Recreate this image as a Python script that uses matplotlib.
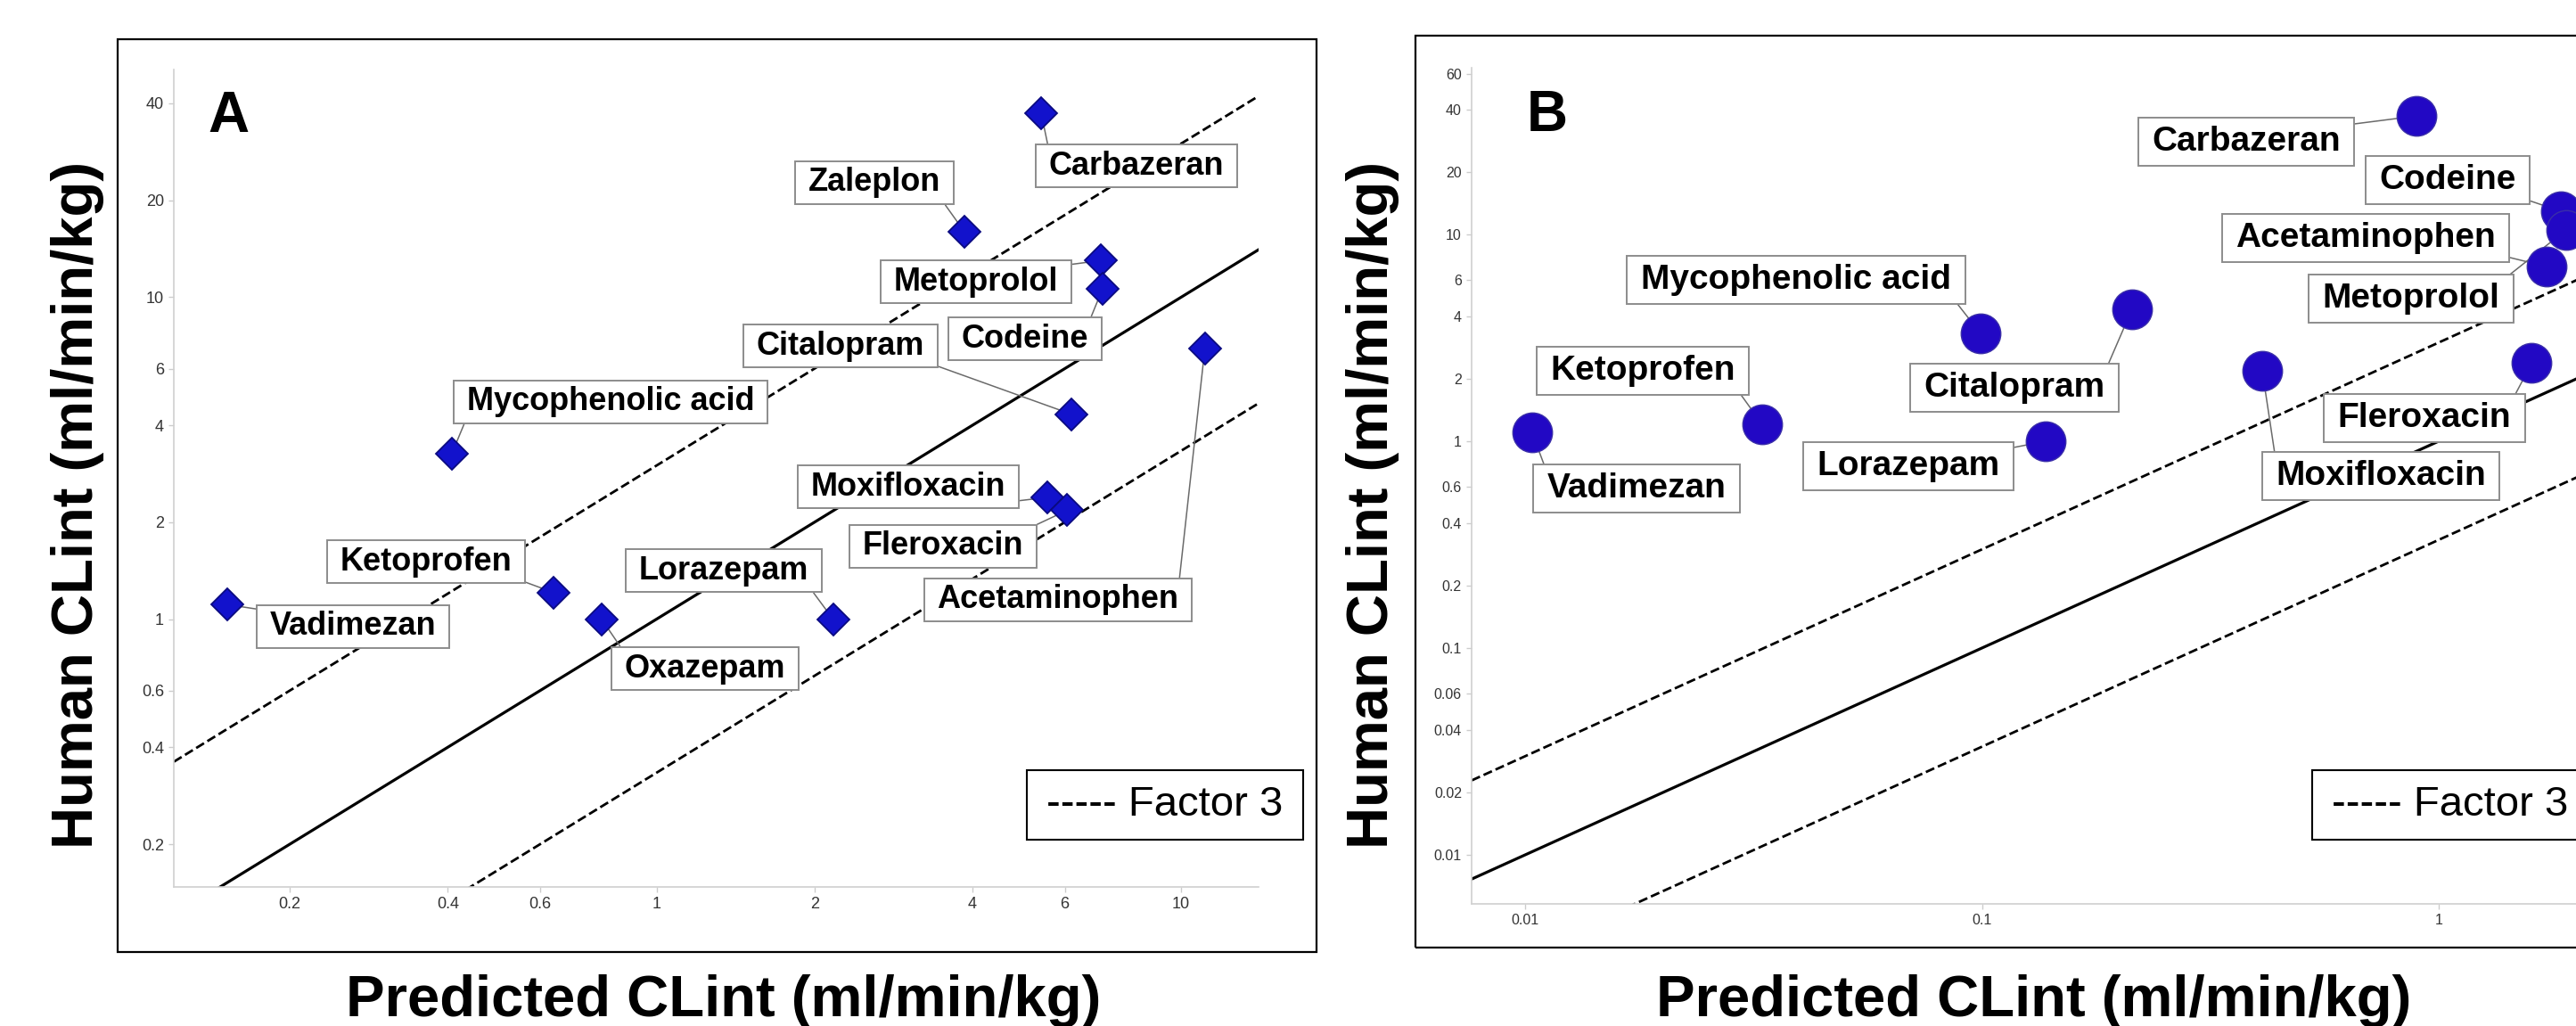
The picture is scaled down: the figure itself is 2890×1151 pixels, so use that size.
import numpy as np
import matplotlib
matplotlib.use("Agg")
import matplotlib.pyplot as plt
from matplotlib.patches import Rectangle
from matplotlib.path import Path
from matplotlib.ticker import NullLocator
from functools import partial

plt.rcParams["font.family"] = ["Liberation Sans", "DejaVu Sans"]

# ---- data: predicted vs human CLint (ml/min/kg) ----
drugs_a = ["Carbazeran", "Zaleplon", "Metoprolol", "Codeine", "Acetaminophen", "Citalopram",
           "Mycophenolic acid", "Moxifloxacin", "Fleroxacin", "Ketoprofen", "Vadimezan",
           "Oxazepam", "Lorazepam"]
pred_a = [5.41, 3.86, 7.03, 7.08, 11.1, 6.18, 0.407, 5.56, 6.07, 0.636, 0.152, 0.786, 2.17]
obs_a = [37.4, 16.0, 13.0, 10.6, 6.94, 4.33, 3.26, 2.39, 2.18, 1.21, 1.11, 1.0, 1.0]

drugs_b = ["Carbazeran", "Codeine", "Metoprolol", "Acetaminophen", "Mycophenolic acid",
           "Citalopram", "Ketoprofen", "Vadimezan", "Lorazepam", "Moxifloxacin", "Fleroxacin"]
pred_b = [0.894, 1.85, 1.90, 1.72, 0.0994, 0.213, 0.033, 0.01035, 0.138, 0.411, 1.60]
obs_b = [37.4, 12.95, 10.5, 7.0, 3.31, 4.34, 1.21, 1.10, 1.0, 2.19, 2.39]

xticks_a = [0.2, 0.4, 0.6, 1, 2, 4, 6, 10]
yticks_a = [0.2, 0.4, 0.6, 1, 2, 4, 6, 10, 20, 40]
xticks_b = [0.01, 0.1, 1]
yticks_b = [0.01, 0.02, 0.04, 0.06, 0.1, 0.2, 0.4, 0.6, 1, 2, 4, 6, 10, 20, 40, 60]

# ---- layout (figure pixels, measured from the top) ----
W, H = 2890, 1151

# label box centre (x, y from top) and the box corner the leader starts from
labels_a = {
    "Carbazeran": (1275, 186, (0, 1)),
    "Zaleplon": (981, 205, (1, 0)),
    "Metoprolol": (1095, 316, (1, 1)),
    "Codeine": (1150, 380, (1, 1)),
    "Citalopram": (943, 388, (1, 0)),
    "Mycophenolic acid": (685, 451, (0, 0)),
    "Moxifloxacin": (1019, 546, (1, 0)),
    "Fleroxacin": (1058, 613, (1, 1)),
    "Ketoprofen": (478, 630, (1, 0)),
    "Lorazepam": (812, 640, (1, 0)),
    "Vadimezan": (396, 703, (0, 1)),
    "Oxazepam": (791, 750, (0, 1)),
    "Acetaminophen": (1187, 673, (1, 1)),
}
labels_b = {
    "Carbazeran": (2520, 159, (1, 1)),
    "Codeine": (2746, 202, (1, 0)),
    "Acetaminophen": (2654, 267, (1, 0)),
    "Metoprolol": (2705, 335, (1, 1)),
    "Mycophenolic acid": (2015, 314, (1, 0)),
    "Citalopram": (2260, 435, (1, 1)),
    "Ketoprofen": (1843, 416, (1, 0)),
    "Vadimezan": (1836, 548, (0, 1)),
    "Lorazepam": (2141, 523, (1, 1)),
    "Moxifloxacin": (2671, 534, (0, 1)),
    "Fleroxacin": (2720, 469, (1, 1)),
}


def fx(px):
    return px / W


def fy(py):
    return 1 - py / H


def rect_box(x0, y0, width, height, mutation_size, padx=0.4, pady=0.2):
    # square box with separate horizontal / vertical padding
    px, py = padx * mutation_size, pady * mutation_size
    x0, y0 = x0 - px, y0 - py
    x1, y1 = x0 + width + 2 * px, y0 + height + 2 * py
    return Path([(x0, y0), (x1, y0), (x1, y1), (x0, y1), (x0, y0)], closed=True)


fig = plt.figure(figsize=(W / 100, H / 100), dpi=100)

# outer frames around each panel
for x0, y0, x1, y1 in [(132, 44, 1477, 1068), (1588, 40, 2935, 1063)]:
    fig.add_artist(Rectangle((fx(x0), fy(y1)), (x1 - x0) / W, (y1 - y0) / H,
                             transform=fig.transFigure, fill=False, ec="black", lw=1.6))

ax_a = fig.add_axes([fx(195), fy(995), (1412 - 195) / W, (995 - 78) / H])
ax_b = fig.add_axes([fx(1651), fy(1014), (2965 - 1651) / W, (1014 - 76) / H])

panels = [
    (ax_a, (0.1202, 14.05), (0.1473, 50.96), xticks_a, yticks_a, 13),
    (ax_b, (0.00763, 2.8), (0.00579, 64.0), xticks_b, yticks_b, 11.5),
]
for ax, xl, yl, xt, yt, tsize in panels:
    ax.set_xscale("log")
    ax.set_yscale("log")
    ax.set_xlim(*xl)
    ax.set_ylim(*yl)
    ax.set_xticks(xt, [f"{v:g}" for v in xt])
    ax.set_yticks(yt, [f"{v:g}" for v in yt])
    ax.xaxis.set_minor_locator(NullLocator())
    ax.yaxis.set_minor_locator(NullLocator())
    ax.tick_params(length=4.5, width=1, color="#cccccc", labelcolor="#333333",
                   labelsize=tsize, pad=3.5)
    for s in ["top", "right"]:
        ax.spines[s].set_visible(False)
    for s in ["left", "bottom"]:
        ax.spines[s].set_color("#d0d0d0")
        ax.spines[s].set_linewidth(1.2)
    ax.patch.set_alpha(0)

    # line of unity and factor-3 lines
    xs = np.array(xl)
    ax.plot(xs, xs, color="black", lw=2.3, zorder=2)
    ax.plot(xs, xs * 3, color="black", lw=2.0, ls=(0, (3.7, 1.6)), zorder=2)
    ax.plot(xs, xs / 3, color="black", lw=2.0, ls=(0, (3.7, 1.6)), zorder=2)

# markers
ax_a.plot(pred_a, obs_a, ls="none", marker="D", ms=18.5, mfc="#1212cc", mec="#0a0a80",
          mew=1.3, zorder=6)
ax_b.plot(pred_b, obs_b, ls="none", marker="o", ms=32, mfc="#2208c4", mec="#3a2ea8",
          mew=1.0, zorder=6)

# labelled boxes with leader lines
for ax, names, xs, ys, lay, fsize, pady in [
        (ax_a, drugs_a, pred_a, obs_a, labels_a, 26, 0.19),
        (ax_b, drugs_b, pred_b, obs_b, labels_b, 28, 0.22)]:
    for name, x, y in zip(names, xs, ys):
        cx, cy, corner = lay[name]
        ax.annotate(name, xy=(x, y), xycoords="data",
                    xytext=(cx, H - cy), textcoords="figure pixels",
                    ha="center", va="center", fontsize=fsize, fontweight="bold",
                    bbox=dict(boxstyle=partial(rect_box, padx=0.4, pady=pady),
                              fc="white", ec="#8c8c8c", lw=1.4),
                    arrowprops=dict(arrowstyle="-", color="#6a6a6a", lw=1.1,
                                    relpos=corner, shrinkA=0, shrinkB=0),
                    zorder=4)

# "Factor 3" legend boxes
for cx in [1307, 2749]:
    fig.text(fx(cx), fy(903), "----- Factor 3", ha="center", va="center", fontsize=34,
             bbox=dict(boxstyle=partial(rect_box, padx=0.47, pady=0.36),
                       fc="white", ec="black", lw=1.5))

# panel letters
fig.text(fx(233), fy(148), "A", fontsize=46, fontweight="bold", ha="left", va="baseline")
fig.text(fx(1713), fy(147), "B", fontsize=46, fontweight="bold", ha="left", va="baseline")

# axis titles
for x in [87, 1540]:
    fig.text(fx(x), fy(566), "Human CLint (ml/min/kg)", rotation=90, ha="center",
             va="center", fontsize=47, fontweight="bold")
for x in [812, 2282]:
    fig.text(fx(x), fy(1140), "Predicted CLint (ml/min/kg)", ha="center",
             va="baseline", fontsize=47, fontweight="bold")

fig.savefig("out.png", dpi=100)
